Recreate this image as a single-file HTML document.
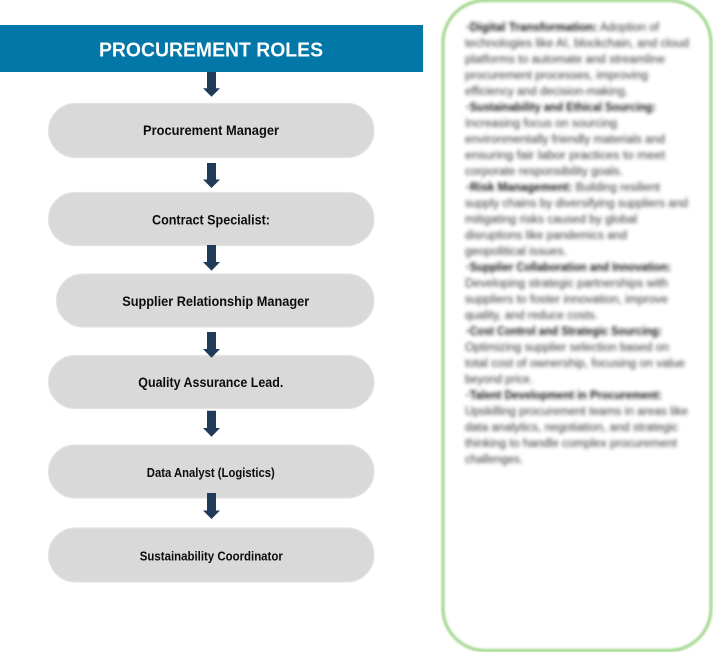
<!DOCTYPE html>
<html>
<head>
<meta charset="utf-8">
<style>
  html, body { margin: 0; padding: 0; background: #ffffff; }
  body { width: 713px; height: 652px; overflow: hidden; }
  svg { display: block; }
  .lbl { font-family: "Liberation Sans", sans-serif; font-weight: bold; fill: #0d0d0d; }
  .pt { font-family: "Liberation Sans", sans-serif; font-size: 11.5px; fill: #383838; }
  .pb { font-family: "Liberation Sans", sans-serif; font-size: 11.5px; font-weight: bold; fill: #1a1a1a; }
</style>
</head>
<body>
<svg width="713" height="652" viewBox="0 0 713 652" xmlns="http://www.w3.org/2000/svg">
  <defs>
    <filter id="blurT" x="-5%" y="-5%" width="110%" height="110%">
      <feGaussianBlur stdDeviation="1.9"/>
    </filter>
    <filter id="blurB" x="-5%" y="-5%" width="110%" height="110%">
      <feGaussianBlur stdDeviation="1.1"/>
    </filter>
  </defs>

  <!-- Header bar -->
  <rect x="0" y="25" width="423" height="47" fill="#0378a8"/>
  <text x="211" y="56.5" text-anchor="middle" font-family="Liberation Sans, sans-serif" font-weight="bold" font-size="20.5" fill="#ffffff" textLength="224" lengthAdjust="spacingAndGlyphs">PROCUREMENT ROLES</text>

  <!-- Boxes -->
  <g fill="#d9d9d9" stroke="#e3e3e3" stroke-width="1.2">
    <rect x="48.5" y="103.5" width="325.5" height="54" rx="27" ry="27"/>
    <rect x="48.5" y="192.5" width="325.5" height="53" rx="26.5" ry="26.5"/>
    <rect x="56.5" y="274" width="317.5" height="53" rx="26.5" ry="26.5"/>
    <rect x="48.5" y="355.5" width="325.5" height="53" rx="26.5" ry="26.5"/>
    <rect x="48.5" y="445" width="325.5" height="53" rx="26.5" ry="26.5"/>
    <rect x="48.5" y="528" width="325.5" height="54" rx="27" ry="27"/>
  </g>

  <!-- Arrows -->
  <g fill="#1f3b57">
    <path d="M207,72 H216 V88.3 H220 L211.5,96.7 L203,88.3 H207 Z"/>
    <path d="M207,163 H216 V179.5 H220 L211.5,188 L203,179.5 H207 Z"/>
    <path d="M207,245 H216 V262 H220 L211.5,270.7 L203,262 H207 Z"/>
    <path d="M207,332 H216 V349 H220 L211.5,357.7 L203,349 H207 Z"/>
    <path d="M207,410.7 H216 V428 H220 L211.5,436.7 L203,428 H207 Z"/>
    <path d="M207,493 H216 V510.5 H220 L211.5,519 L203,510.5 H207 Z"/>
  </g>

  <!-- Box labels -->
  <text class="lbl" x="211" y="135" font-size="14" text-anchor="middle" textLength="136" lengthAdjust="spacingAndGlyphs">Procurement Manager</text>
  <text class="lbl" x="211" y="224.3" font-size="14" text-anchor="middle" textLength="118" lengthAdjust="spacingAndGlyphs">Contract Specialist:</text>
  <text class="lbl" x="215.7" y="306" font-size="14" text-anchor="middle" textLength="187" lengthAdjust="spacingAndGlyphs">Supplier Relationship Manager</text>
  <text class="lbl" x="210.8" y="387.2" font-size="14" text-anchor="middle" textLength="145" lengthAdjust="spacingAndGlyphs">Quality Assurance Lead.</text>
  <text class="lbl" x="210.8" y="477" font-size="13" text-anchor="middle" textLength="128" lengthAdjust="spacingAndGlyphs">Data Analyst (Logistics)</text>
  <text class="lbl" x="211.3" y="560.5" font-size="13" text-anchor="middle" textLength="143" lengthAdjust="spacingAndGlyphs">Sustainability Coordinator</text>

  <!-- Right panel border -->
  <rect x="443" y="0.5" width="268" height="650" rx="42" ry="42" fill="none" stroke="#9fd58a" stroke-width="3" filter="url(#blurB)"/>

  <!-- Right panel text (blurred) -->
  <g filter="url(#blurT)">
    <text x="466" y="31" textLength="193" lengthAdjust="spacingAndGlyphs"><tspan class="pb">·Digital Transformation:</tspan><tspan class="pt"> Adoption of</tspan></text>
    <text class="pt" x="465" y="47" textLength="224" lengthAdjust="spacingAndGlyphs">technologies like AI, blockchain, and cloud</text>
    <text class="pt" x="465" y="63" textLength="200" lengthAdjust="spacingAndGlyphs">platforms to automate and streamline</text>
    <text class="pt" x="465" y="79" textLength="183" lengthAdjust="spacingAndGlyphs">procurement processes, improving</text>
    <text class="pt" x="465" y="95" textLength="163" lengthAdjust="spacingAndGlyphs">efficiency and decision-making.</text>
    <text class="pb" x="466" y="111" textLength="190" lengthAdjust="spacingAndGlyphs">·Sustainability and Ethical Sourcing:</text>
    <text class="pt" x="465" y="127" textLength="152" lengthAdjust="spacingAndGlyphs">Increasing focus on sourcing</text>
    <text class="pt" x="465" y="143" textLength="200" lengthAdjust="spacingAndGlyphs">environmentally friendly materials and</text>
    <text class="pt" x="465" y="159" textLength="200" lengthAdjust="spacingAndGlyphs">ensuring fair labor practices to meet</text>
    <text class="pt" x="465" y="175" textLength="158" lengthAdjust="spacingAndGlyphs">corporate responsibility goals.</text>
    <text x="466" y="191" textLength="194" lengthAdjust="spacingAndGlyphs"><tspan class="pb">·Risk Management:</tspan><tspan class="pt"> Building resilient</tspan></text>
    <text class="pt" x="465" y="207" textLength="223" lengthAdjust="spacingAndGlyphs">supply chains by diversifying suppliers and</text>
    <text class="pt" x="465" y="223" textLength="172" lengthAdjust="spacingAndGlyphs">mitigating risks caused by global</text>
    <text class="pt" x="465" y="239" textLength="162" lengthAdjust="spacingAndGlyphs">disruptions like pandemics and</text>
    <text class="pt" x="465" y="255" textLength="102" lengthAdjust="spacingAndGlyphs">geopolitical issues.</text>
    <text class="pb" x="466" y="271" textLength="205" lengthAdjust="spacingAndGlyphs">·Supplier Collaboration and Innovation:</text>
    <text class="pt" x="465" y="287" textLength="203" lengthAdjust="spacingAndGlyphs">Developing strategic partnerships with</text>
    <text class="pt" x="465" y="303" textLength="203" lengthAdjust="spacingAndGlyphs">suppliers to foster innovation, improve</text>
    <text class="pt" x="465" y="319" textLength="133" lengthAdjust="spacingAndGlyphs">quality, and reduce costs.</text>
    <text class="pb" x="466" y="335" textLength="196" lengthAdjust="spacingAndGlyphs">·Cost Control and Strategic Sourcing:</text>
    <text class="pt" x="465" y="351" textLength="204" lengthAdjust="spacingAndGlyphs">Optimizing supplier selection based on</text>
    <text class="pt" x="465" y="367" textLength="220" lengthAdjust="spacingAndGlyphs">total cost of ownership, focusing on value</text>
    <text class="pt" x="465" y="383" textLength="68" lengthAdjust="spacingAndGlyphs">beyond price.</text>
    <text class="pb" x="466" y="399" textLength="196" lengthAdjust="spacingAndGlyphs">·Talent Development in Procurement:</text>
    <text class="pt" x="465" y="415" textLength="223" lengthAdjust="spacingAndGlyphs">Upskilling procurement teams in areas like</text>
    <text class="pt" x="465" y="431" textLength="213" lengthAdjust="spacingAndGlyphs">data analytics, negotiation, and strategic</text>
    <text class="pt" x="465" y="447" textLength="212" lengthAdjust="spacingAndGlyphs">thinking to handle complex procurement</text>
    <text class="pt" x="465" y="463" textLength="58" lengthAdjust="spacingAndGlyphs">challenges.</text>
  </g>
</svg>
</body>
</html>
